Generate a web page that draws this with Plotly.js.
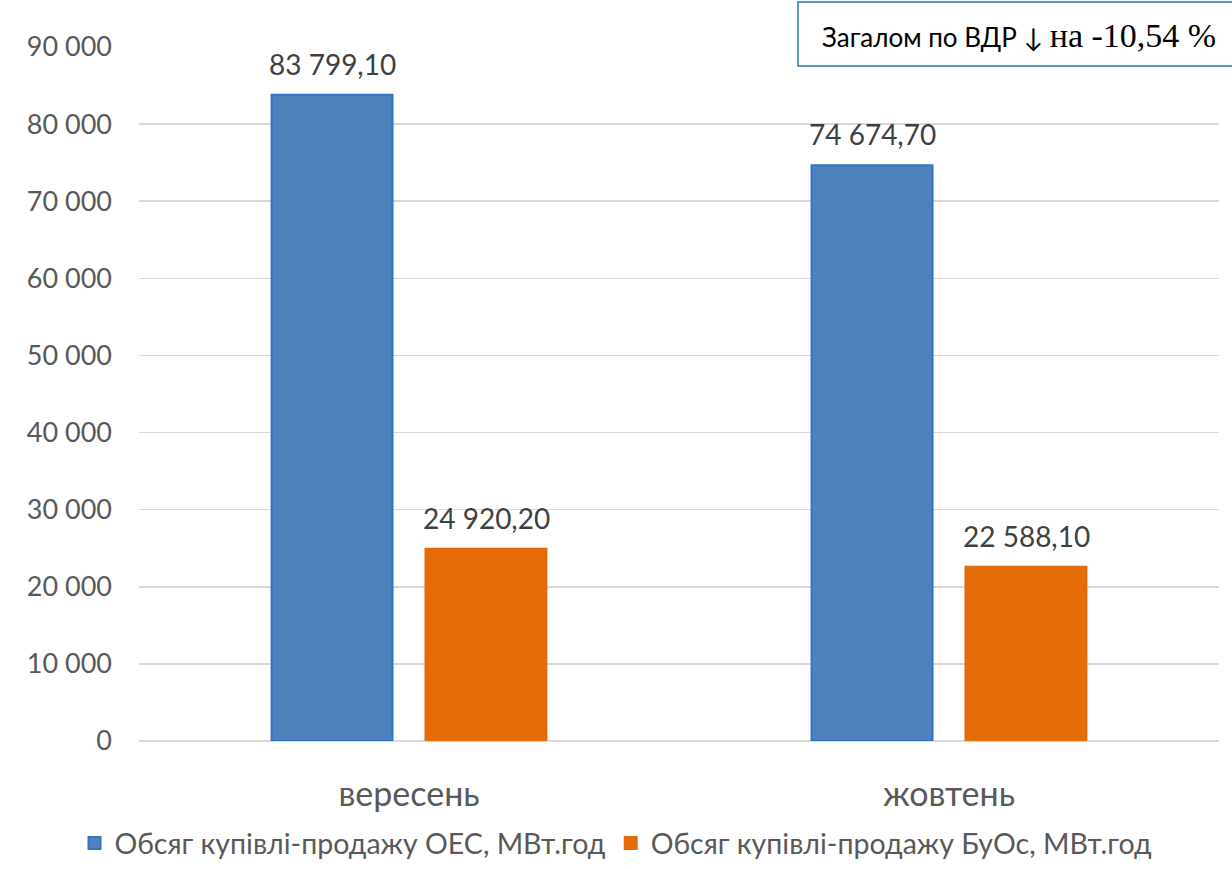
<!DOCTYPE html>
<html><head><meta charset="utf-8">
<script src="https://cdn.plot.ly/plotly-3.0.1.min.js"></script>
<style>html,body{margin:0;padding:0;background:#fff}#c{width:1232px;height:869px}</style>
</head><body><div id="c"></div>
<script>
const categories = ["вересень", "жовтень"];
const seriesNames = ["Обсяг купівлі-продажу ОЕС, МВт.год", "Обсяг купівлі-продажу БуОс, МВт.год"];
const oesValues = [83799.10, 74674.70];
const buosValues = [24920.20, 22588.10];
const tickValues = [0, 10000, 20000, 30000, 40000, 50000, 60000, 70000, 80000, 90000];
const noteText = 'Загалом по ВДР ↓ <span style="font-family:\'Liberation Serif\',serif;font-size:34px">на -10,54 %</span>';

const FONT = "Lato, 'Noto Sans', sans-serif";
const mk = (name, y, fill, line) => ({
  type: 'bar', name: name, x: categories, y: y,
  marker: {color: fill, line: {color: line, width: 2}},
  hoverinfo: 'none'
});
const data = [
  mk(seriesNames[0], oesValues, '#4F81BD', '#2E75C6'),
  mk(seriesNames[1], buosValues, '#E36C09', '#E36C09')
];
const fmt = v => {
  const p = v.toFixed(2).split('.');
  return p[0].replace(/\B(?=(\d{3})+(?!\d))/g, ' ') + ',' + p[1];
};
const labelAnns = [];
[oesValues, buosValues].forEach((vals, si) => {
  vals.forEach((v, ci) => {
    labelAnns.push({xref: 'x', yref: 'y', x: categories[ci], y: v, xshift: si === 0 ? -77 : 77,
      yshift: 12, yanchor: 'bottom', xanchor: 'center', showarrow: false, text: fmt(v),
      font: {family: FONT, size: 28, color: '#404040'}});
  });
});
const layout = {
  width: 1232, height: 869,
  margin: {l: 139, r: 13, t: 47, b: 128, autoexpand: false},
  separators: ', ',
  font: {family: FONT, color: '#595959'},
  barmode: 'group', bargap: 0.43, bargroupgap: 0.214,
  paper_bgcolor: '#fff', plot_bgcolor: '#fff',
  showlegend: true,
  legend: {orientation: 'h', x: 0.5, xref: 'container', xanchor: 'center', y: 0, yref: 'container', yanchor: 'bottom',
           font: {size: 28.5, color: '#595959', family: FONT}, itemwidth: 30, tracegroupgap: 0},
  xaxis: {type: 'category', tickfont: {size: 34, color: '#595959'}, showline: false, ticks: '',
          showgrid: false, zeroline: false, ticklabelstandoff: 30, automargin: false},
  yaxis: {range: [0, 90000], tickvals: tickValues, tickformat: ',d', tickfont: {size: 27, color: '#595959'},
          gridcolor: '#d9d9d9', gridwidth: 1.5, zeroline: true, zerolinecolor: '#d9d9d9', zerolinewidth: 1.5,
          showline: false, ticks: '', ticklabelstandoff: 26, automargin: false},
  shapes: [{type: 'rect', xref: 'paper', yref: 'paper', x0: 0.6102, x1: 1.03, y0: 0.9726, y1: 1.0648,
            fillcolor: '#fff', line: {color: '#2E75B6', width: 1.5}, layer: 'above'}],
  annotations: labelAnns.concat([{xref: 'paper', yref: 'paper', x: 0.6306, y: 1.017, xanchor: 'left', yanchor: 'middle',
                 text: noteText, showarrow: false, font: {family: FONT, size: 26, color: '#000'}}])
};
Plotly.newPlot('c', data, layout, {displayModeBar: false, staticPlot: true});
</script></body></html>
